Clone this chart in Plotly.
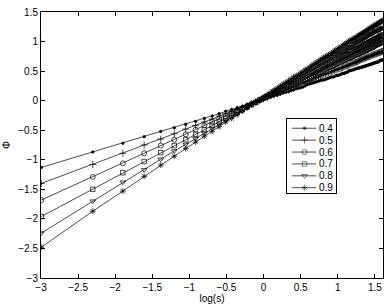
import numpy as np
import plotly.graph_objects as go

# s values (x axis shows log(s), natural log)
s = [0.05, 0.10, 0.15, 0.20, 0.25, 0.30, 0.35, 0.40, 0.45, 0.50,
     0.55, 0.60, 0.65, 0.70, 0.75, 0.80, 0.85, 0.90, 0.95, 1.00,
     1.05, 1.10, 1.15, 1.20, 1.25, 1.30, 1.35, 1.40, 1.45, 1.50,
     1.55, 1.60, 1.65, 1.70, 1.75, 1.80, 1.85, 1.90, 1.95, 2.00,
     2.05, 2.10, 2.15, 2.20, 2.25, 2.30, 2.35, 2.40, 2.45, 2.50,
     2.55, 2.60, 2.65, 2.70, 2.75, 2.80, 2.85, 2.90, 2.95, 3.00,
     3.05, 3.10, 3.15, 3.20, 3.25, 3.30, 3.35, 3.40, 3.45, 3.50,
     3.55, 3.60, 3.65, 3.70, 3.75, 3.80, 3.85, 3.90, 3.95, 4.00,
     4.05, 4.10, 4.15, 4.20, 4.25, 4.30, 4.35, 4.40, 4.45, 4.50,
     4.55, 4.60, 4.65, 4.70, 4.75, 4.80, 4.85, 4.90, 4.95, 5.00]

phi_04 = [-1.13, -0.87, -0.72, -0.61, -0.52, -0.46, -0.40, -0.35, -0.30, -0.26,
          -0.22, -0.18, -0.15, -0.12, -0.10, -0.07, -0.05, -0.02, 0.00, 0.02,
          0.04, 0.06, 0.08, 0.09, 0.11, 0.13, 0.14, 0.15, 0.17, 0.18,
          0.20, 0.21, 0.22, 0.23, 0.25, 0.27, 0.28, 0.29, 0.30, 0.31,
          0.32, 0.33, 0.34, 0.35, 0.35, 0.36, 0.37, 0.38, 0.39, 0.40,
          0.40, 0.41, 0.42, 0.43, 0.43, 0.44, 0.45, 0.46, 0.46, 0.47,
          0.48, 0.48, 0.50, 0.51, 0.51, 0.52, 0.52, 0.53, 0.54, 0.54,
          0.55, 0.55, 0.56, 0.56, 0.57, 0.57, 0.58, 0.58, 0.59, 0.59,
          0.60, 0.60, 0.61, 0.61, 0.62, 0.62, 0.63, 0.63, 0.64, 0.64,
          0.65, 0.65, 0.65, 0.66, 0.67, 0.68, 0.68, 0.69, 0.69, 0.69]

phi_05 = [-1.40, -1.08, -0.89, -0.75, -0.65, -0.56, -0.48, -0.42, -0.36, -0.31,
          -0.26, -0.22, -0.18, -0.15, -0.11, -0.08, -0.05, -0.02, 0.00, 0.03,
          0.05, 0.08, 0.10, 0.12, 0.14, 0.16, 0.18, 0.19, 0.21, 0.23,
          0.24, 0.26, 0.28, 0.29, 0.30, 0.32, 0.33, 0.34, 0.36, 0.38,
          0.39, 0.40, 0.42, 0.43, 0.44, 0.45, 0.46, 0.47, 0.48, 0.49,
          0.50, 0.51, 0.52, 0.53, 0.54, 0.54, 0.55, 0.56, 0.57, 0.58,
          0.59, 0.59, 0.60, 0.61, 0.62, 0.63, 0.63, 0.64, 0.65, 0.65,
          0.66, 0.67, 0.68, 0.69, 0.70, 0.70, 0.71, 0.72, 0.72, 0.73,
          0.74, 0.74, 0.75, 0.75, 0.76, 0.77, 0.77, 0.78, 0.78, 0.79,
          0.79, 0.80, 0.80, 0.81, 0.81, 0.82, 0.82, 0.83, 0.83, 0.84]

phi_06 = [-1.68, -1.29, -1.06, -0.89, -0.76, -0.66, -0.57, -0.49, -0.42, -0.36,
          -0.31, -0.26, -0.21, -0.17, -0.13, -0.09, -0.05, -0.02, 0.01, 0.04,
          0.07, 0.10, 0.12, 0.15, 0.17, 0.19, 0.21, 0.24, 0.26, 0.27,
          0.29, 0.31, 0.33, 0.35, 0.36, 0.38, 0.40, 0.41, 0.43, 0.44,
          0.46, 0.47, 0.48, 0.50, 0.52, 0.53, 0.55, 0.56, 0.57, 0.58,
          0.59, 0.60, 0.62, 0.63, 0.64, 0.65, 0.66, 0.67, 0.68, 0.69,
          0.70, 0.71, 0.72, 0.72, 0.73, 0.74, 0.75, 0.76, 0.77, 0.78,
          0.78, 0.79, 0.80, 0.81, 0.82, 0.82, 0.83, 0.84, 0.85, 0.85,
          0.86, 0.87, 0.88, 0.88, 0.89, 0.90, 0.90, 0.91, 0.92, 0.93,
          0.94, 0.95, 0.95, 0.96, 0.96, 0.97, 0.98, 0.98, 0.99, 0.99]

phi_07 = [-1.96, -1.50, -1.22, -1.03, -0.88, -0.76, -0.66, -0.57, -0.49, -0.42,
          -0.36, -0.30, -0.25, -0.20, -0.15, -0.11, -0.07, -0.03, 0.01, 0.04,
          0.07, 0.10, 0.13, 0.16, 0.19, 0.21, 0.24, 0.26, 0.29, 0.31,
          0.33, 0.35, 0.37, 0.39, 0.41, 0.43, 0.45, 0.47, 0.49, 0.50,
          0.52, 0.53, 0.55, 0.57, 0.58, 0.60, 0.61, 0.62, 0.64, 0.65,
          0.66, 0.68, 0.69, 0.70, 0.71, 0.73, 0.74, 0.75, 0.76, 0.77,
          0.78, 0.79, 0.80, 0.82, 0.83, 0.84, 0.85, 0.86, 0.87, 0.88,
          0.88, 0.89, 0.90, 0.91, 0.92, 0.93, 0.94, 0.95, 0.96, 0.96,
          0.97, 0.98, 0.99, 1.00, 1.00, 1.01, 1.02, 1.03, 1.04, 1.04,
          1.05, 1.06, 1.06, 1.07, 1.08, 1.09, 1.09, 1.10, 1.11, 1.11]

phi_08 = [-2.24, -1.70, -1.38, -1.17, -0.99, -0.85, -0.74, -0.64, -0.55, -0.47,
          -0.40, -0.33, -0.27, -0.22, -0.17, -0.12, -0.07, -0.03, 0.01, 0.05,
          0.09, 0.12, 0.16, 0.19, 0.22, 0.25, 0.28, 0.30, 0.33, 0.35,
          0.38, 0.40, 0.43, 0.45, 0.47, 0.49, 0.51, 0.53, 0.55, 0.57,
          0.59, 0.61, 0.62, 0.64, 0.66, 0.67, 0.69, 0.71, 0.72, 0.74,
          0.75, 0.77, 0.78, 0.79, 0.80, 0.81, 0.83, 0.84, 0.85, 0.86,
          0.88, 0.89, 0.90, 0.91, 0.92, 0.94, 0.95, 0.96, 0.97, 0.98,
          0.99, 1.00, 1.01, 1.02, 1.03, 1.04, 1.05, 1.06, 1.07, 1.08,
          1.09, 1.10, 1.11, 1.12, 1.13, 1.13, 1.14, 1.15, 1.16, 1.17,
          1.18, 1.18, 1.18, 1.19, 1.20, 1.21, 1.21, 1.22, 1.23, 1.24]

phi_09 = [-2.48, -1.87, -1.53, -1.28, -1.09, -0.94, -0.81, -0.70, -0.60, -0.52,
          -0.44, -0.36, -0.30, -0.24, -0.18, -0.12, -0.07, -0.03, 0.02, 0.06,
          0.10, 0.14, 0.18, 0.21, 0.25, 0.28, 0.31, 0.34, 0.37, 0.40,
          0.42, 0.44, 0.47, 0.49, 0.52, 0.54, 0.56, 0.59, 0.61, 0.63,
          0.65, 0.67, 0.69, 0.71, 0.73, 0.74, 0.76, 0.77, 0.79, 0.80,
          0.82, 0.84, 0.85, 0.87, 0.88, 0.90, 0.91, 0.93, 0.94, 0.96,
          0.97, 0.98, 1.00, 1.01, 1.02, 1.03, 1.05, 1.05, 1.06, 1.07,
          1.09, 1.10, 1.11, 1.12, 1.13, 1.14, 1.15, 1.16, 1.17, 1.18,
          1.19, 1.20, 1.22, 1.22, 1.23, 1.24, 1.25, 1.26, 1.27, 1.27,
          1.28, 1.29, 1.30, 1.31, 1.32, 1.33, 1.33, 1.34, 1.35, 1.36]

labels = ["0.4", "0.5", "0.6", "0.7", "0.8", "0.9"]
series = [phi_04, phi_05, phi_06, phi_07, phi_08, phi_09]
xticks = [-3, -2.5, -2, -1.5, -1, -0.5, 0, 0.5, 1, 1.5]
yticks = [-3, -2.5, -2, -1.5, -1, -0.5, 0, 0.5, 1, 1.5]

symbols = ["circle", "cross-thin-open", "circle-open", "square-open",
           "triangle-down-open", "asterisk-open"]
sizes = [2.5, 5, 5, 4.5, 5, 5]

logs = np.log(np.array(s))

fig = go.Figure()
for lab, sym, sz, ys in zip(labels, symbols, sizes, series):
    fig.add_trace(go.Scatter(x=logs, y=ys, mode="lines+markers", name=lab, showlegend=False,
                             line=dict(color="black", width=0.7),
                             marker=dict(symbol=sym, size=sz, color="black",
                                         line=dict(color="black", width=0.7))))

# hand-built legend box (Plotly's own legend rows are taller than the reference's)
leg_rows = [0.87, 0.71, 0.55, 0.39, 0.23, 0.07]
for lab, sym, sz, yy in zip(labels, symbols, sizes, leg_rows):
    fig.add_trace(go.Scatter(x=[0.1, 0.36, 0.6], y=[yy, yy, yy], xaxis="x2", yaxis="y2",
                             mode="lines+markers", showlegend=False, hoverinfo="skip",
                             line=dict(color="black", width=0.7),
                             marker=dict(symbol=sym, size=[0, sz, 0], color="black",
                                         line=dict(color="black", width=0.7))))
    fig.add_annotation(x=0.62, y=yy, xref="x2", yref="y2", text=lab, showarrow=False,
                       xanchor="left", yanchor="middle",
                       font=dict(family="Liberation Sans, Arial, sans-serif", size=10, color="black"))

font = dict(family="Liberation Sans, Arial, sans-serif", size=10, color="black")
axis_common = dict(showgrid=False, zeroline=False, showline=True, linecolor="black", linewidth=1,
                   mirror="ticks", ticks="inside", ticklen=4, tickcolor="black", tickfont=font)
fig.update_layout(
    width=390, height=307, margin=dict(l=38, r=6, t=10, b=25),
    paper_bgcolor="white", plot_bgcolor="white", font=font,
    xaxis=dict(range=[-3, float(np.log(5))], tickvals=xticks,
               title=dict(text="log(s)", standoff=1, font=font), **axis_common),
    yaxis=dict(range=[-3, 1.5], tickvals=yticks,
               title=dict(text="Φ", standoff=5, font=font), **axis_common),
    xaxis2=dict(domain=[(287 - 38) / 346, (336 - 38) / 346], range=[0, 1], anchor="y2",
                showline=True, mirror=True, linecolor="black", linewidth=1, showgrid=False,
                zeroline=False, showticklabels=False, ticks=""),
    yaxis2=dict(domain=[(282 - 195) / 272, (282 - 119) / 272], range=[0, 1], anchor="x2",
                showline=True, mirror=True, linecolor="black", linewidth=1, showgrid=False,
                zeroline=False, showticklabels=False, ticks=""),
)
fig.write_html("out.html", config={"displayModeBar": False},
               post_script="document.body.style.margin='0';")
